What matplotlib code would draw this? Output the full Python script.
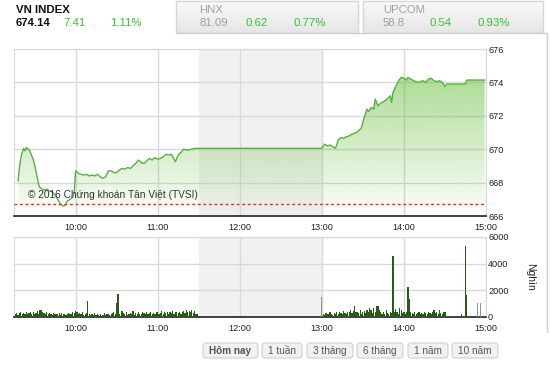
import numpy as np
import matplotlib
matplotlib.use('Agg')
import matplotlib.pyplot as plt
from matplotlib.patches import FancyBboxPatch
from matplotlib.colors import to_rgb

plt.rcParams['font.family'] = ['Liberation Sans', 'DejaVu Sans']

# index line (time, value)
index_time = ["09:18", "09:19", "09:20", "09:21", "09:22", "09:23", "09:24", "09:25", "09:26", "09:27",
              "09:28", "09:29", "09:30", "09:31", "09:32", "09:33", "09:34", "09:35", "09:37", "09:39",
              "09:41", "09:43", "09:45", "09:47", "09:49", "09:51", "09:52", "09:53", "09:54", "09:56",
              "09:58", "09:59", "10:00", "10:01", "10:02", "10:04", "10:06", "10:08", "10:10", "10:12",
              "10:14", "10:16", "10:18", "10:20", "10:22", "10:24", "10:26", "10:28", "10:30", "10:32",
              "10:34", "10:36", "10:38", "10:40", "10:42", "10:44", "10:46", "10:48", "10:50", "10:52",
              "10:54", "10:56", "10:58", "11:00", "11:02", "11:04", "11:06", "11:08", "11:10", "11:12",
              "11:13", "11:15", "11:17", "11:19", "11:21", "11:24", "11:27", "11:30",
              "13:00", "13:02", "13:04", "13:06", "13:08", "13:10", "13:12", "13:14", "13:16", "13:18",
              "13:20", "13:22", "13:24", "13:26", "13:28", "13:29", "13:31", "13:33", "13:34", "13:35",
              "13:36", "13:38", "13:39", "13:40", "13:41", "13:43", "13:45", "13:47", "13:49", "13:50",
              "13:51", "13:52", "13:54", "13:56", "13:58", "14:00", "14:02", "14:03", "14:05", "14:07",
              "14:09", "14:11", "14:12", "14:14", "14:16", "14:18", "14:20", "14:22", "14:24", "14:26",
              "14:28", "14:30", "14:31", "14:45", "14:46", "14:59"]
index_value = [668.1, 668.9, 669.5, 669.8, 670.05, 669.9, 670.1, 670.0, 670.0, 669.8,
               669.6, 669.4, 669.1, 668.7, 668.3, 667.9, 667.7, 667.65, 667.55, 667.6,
               667.5, 667.45, 667.25, 667.0, 666.7, 666.6, 666.62, 666.75, 666.9, 667.0,
               667.15, 667.4, 668.7, 668.65, 668.55, 668.5, 668.45, 668.5, 668.4, 668.45,
               668.4, 668.5, 668.35, 668.25, 668.35, 668.7, 668.7, 668.6, 668.6, 668.75,
               668.85, 668.8, 668.9, 668.85, 669.0, 669.15, 669.35, 669.2, 669.15, 669.3,
               669.45, 669.35, 669.5, 669.4, 669.45, 669.55, 669.7, 669.65, 669.7, 669.4,
               669.25, 669.65, 669.8, 670.0, 669.95, 669.98, 670.05, 670.05,
               670.05, 670.3, 670.2, 670.25, 670.15, 670.05, 670.55, 670.7, 670.65, 670.75,
               670.8, 670.9, 670.95, 671.05, 671.2, 671.3, 671.9, 672.4, 672.25, 672.35,
               672.5, 672.4, 673.0, 672.8, 672.6, 672.75, 672.85, 672.95, 673.1, 673.2,
               672.8, 673.4, 673.75, 674.1, 674.3, 674.25, 674.15, 674.3, 674.2, 674.1,
               674.05, 674.0, 674.05, 674.1, 674.0, 674.2, 674.25, 674.1, 674.05, 674.1,
               674.0, 673.75, 673.9, 673.9, 674.14, 674.14]
ref_value = 666.73

# volume (thousand) per minute
vol_morning_start = "09:16"
vol_morning = [250, 300, 150, 280, 350, 200, 300, 250, 380, 220,
               300, 350, 200, 400, 250, 300, 450, 200, 500, 550,
               400, 300, 250, 350, 200, 300, 250, 180, 300, 220,
               200, 250, 300, 150, 280, 200, 250, 180, 220, 300,
               200, 250, 350, 300, 450, 350, 200, 300, 250, 400,
               180, 250, 300, 1200, 200, 150, 250, 180, 300, 120,
               200, 150, 250, 100, 180, 300, 150, 200, 250, 150,
               200, 300, 400, 250, 1050, 1700, 200, 100, 450, 300,
               200, 350, 150, 250, 300, 200, 450, 180, 300, 250,
               350, 200, 250, 400, 300, 200, 350, 250, 300, 400,
               250, 300, 200, 350, 400, 250, 300, 450, 200, 350,
               300, 400, 250, 350, 300, 450, 250, 400, 350, 300,
               400, 250, 350, 450, 300, 550, 400, 450, 350, 500,
               300, 450, 250, 200]
vol_afternoon_start = "13:01"
vol_afternoon = [200, 150, 300, 250, 200, 350, 250, 150, 300, 200,
                 350, 250, 400, 300, 200, 450, 300, 250, 400, 350,
                 500, 300, 450, 820, 400, 350, 300, 500, 250, 400,
                 450, 300, 550, 400, 700, 500, 300, 650, 400, 800,
                 850, 500, 350, 250, 400, 200, 500, 300, 250, 400,
                 300, 4600, 350, 600, 400, 200, 650, 500, 300, 400,
                 250, 400, 2270, 1330, 400, 300, 200, 350, 250, 300,
                 400, 250, 300, 200, 350, 300, 250, 400, 300, 200,
                 350, 550, 300, 400, 250, 500, 300, 200, 400, 350]
vol_close_time = ["14:38", "14:42", "14:45", "14:46"]
vol_close = [100, 200, 5350, 1650]
vol_light_time = ["13:00", "14:54", "14:56"]
vol_light = [1500, 1070, 1070]

hours = ["10:00", "11:00", "12:00", "13:00", "14:00", "15:00"]
price_ticks = [666, 668, 670, 672, 674, 676]
vol_ticks = [0, 2000, 4000, 6000]
buttons = ["Hôm nay", "1 tuần", "3 tháng", "6 tháng", "1 năm", "10 năm"]
tabs = [("VN INDEX", "674.14", "7.41", "1.11%"),
        ("HNX", "81.09", "0.62", "0.77%"),
        ("UPCOM", "58.8", "0.54", "0.93%")]


def to_h(t):
    h, m = t.split(":")
    return int(h) + int(m) / 60


W, H = 550, 366
fig = plt.figure(figsize=(5.5, 3.66), dpi=100)

# background / header layer in pixel coords
bg = fig.add_axes([0, 0, 1, 1])
bg.set_xlim(0, W)
bg.set_ylim(H, 0)
bg.axis('off')

tab_grad = np.linspace(0.975, 0.9, 64).reshape(-1, 1)
for x0, x1 in [(176, 358), (363, 543)]:
    bg.imshow(tab_grad, cmap='gray', vmin=0, vmax=1, extent=[x0, x1, 33, 1], aspect='auto', zorder=1)
    bg.plot([x0, x0, x1, x1], [33, 1, 1, 33], color='#d6d6d6', lw=1, zorder=2)
bg.plot([176, 547, 547], [33, 33, 332], color='#cfcfcf', lw=1, zorder=2)
bg.set_xlim(0, W)
bg.set_ylim(H, 0)

green = '#33c233'
tab_x = [16, 199, 383]
val_dx = [(0, 47, 94), (0, 47, 95), (0, 47, 95)]
for (name, val, chg, pct), x, dx in zip(tabs, tab_x, val_dx):
    active = name == "VN INDEX"
    c = '#111111' if active else '#a0a0a0'
    bg.text(x, 10, name, fontsize=8.2, fontweight='bold' if active else 'normal',
            color=c, va='center', zorder=3)
    bg.text(x + dx[0], 23.5, val, fontsize=8.2, fontweight='bold' if active else 'normal',
            color=c, va='center', zorder=3)
    bg.text(x + dx[1], 23.5, chg, fontsize=8.2, color=green, va='center', zorder=3)
    bg.text(x + dx[2], 23.5, pct, fontsize=8.2, color=green, va='center', zorder=3)

btn_x = [(203, 258), (262, 302), (307, 353), (357, 403), (408, 448), (452, 498)]
for label, (x0, x1) in zip(buttons, btn_x):
    bg.add_patch(FancyBboxPatch((x0, 343), x1 - x0, 15, boxstyle='round,pad=0,rounding_size=3',
                                fc='#f1f1f1', ec='#cfcfcf', lw=0.8, zorder=2))
    bg.text((x0 + x1) / 2, 351, label, fontsize=7.2, color='#555555', ha='center', va='center',
            fontweight='bold' if label == "Hôm nay" else 'normal', zorder=3)

bg.text(530, 277, "Nghìn", fontsize=7.5, rotation=270, ha='center', va='center', color='#222222')

grid_c = '#d9d9d9'
xmin, xmax = 9.25, 15.0

# price panel
ax = fig.add_axes([14 / W, (H - 216) / H, 472 / W, 167 / H])
t = [to_h(s) for s in index_time]
ax.axvspan(11.5, 13.0, color='#f1f1f1', lw=0, zorder=0)
fill = ax.fill_between(t, index_value, 666, color='none', lw=0)
rgba = np.zeros((256, 1, 4))
rgba[..., :3] = to_rgb('#6cc040')
rgba[..., 3] = np.linspace(0.66, 0.02, 256).reshape(-1, 1)
im = ax.imshow(rgba, extent=[xmin, xmax, 666, 676], aspect='auto', origin='upper', zorder=1)
im.set_clip_path(fill.get_paths()[0], transform=ax.transData)
ax.plot(t, index_value, color='#5aae4a', lw=1, zorder=3)
ax.axhline(ref_value, color='#ff2020', lw=1, ls=(0, (2, 2)), zorder=4)
ax.set_xlim(xmin, xmax)
ax.set_ylim(666, 676)

# volume panel
ax2 = fig.add_axes([14 / W, (H - 317) / H, 472 / W, 80 / H])
ax2.axvspan(11.5, 13.0, color='#f1f1f1', lw=0, zorder=0)
m0 = to_h(vol_morning_start)
a0 = to_h(vol_afternoon_start)
xm = [m0 + i / 60 for i in range(len(vol_morning))]
xa = [a0 + i / 60 for i in range(len(vol_afternoon))]
bw = 0.9 / 60
ax2.bar(xm, vol_morning, width=bw, color='#2a5a1a', lw=0, zorder=3)
ax2.bar(xa, vol_afternoon, width=bw, color='#2a5a1a', lw=0, zorder=3)
ax2.bar([to_h(s) for s in vol_close_time], vol_close, width=bw, color='#2a5a1a', lw=0, zorder=3)
ax2.bar([to_h(s) for s in vol_light_time], vol_light, width=bw, color='#7fa56a', lw=0, zorder=3)
ax2.set_xlim(xmin, xmax)
ax2.set_ylim(0, 6000)

for a, ticks in [(ax, price_ticks), (ax2, vol_ticks)]:
    a.set_xticks([to_h(s) for s in hours])
    a.set_xticklabels(hours)
    a.set_yticks(ticks)
    a.set_yticklabels([str(v) for v in ticks])
    a.yaxis.tick_right()
    a.tick_params(axis='x', length=0, pad=5, labelsize=6.6, colors='#222222')
    a.tick_params(axis='y', length=0, pad=1.5, labelsize=6.6, colors='#222222')
    a.grid(True, color=grid_c, lw=1, zorder=0.5)
    a.set_axisbelow(True)
    for s in ['top', 'left', 'right']:
        a.spines[s].set_color(grid_c)
    a.spines['bottom'].set_color('#333333')
    a.spines['bottom'].set_linewidth(1.3)

fig.text(28 / W, 1 - 195 / H, "© 2016 Chứng khoán Tân Việt (TVSI)", fontsize=7.3,
         color='#333333', va='center')

fig.savefig('out.png', dpi=100)
